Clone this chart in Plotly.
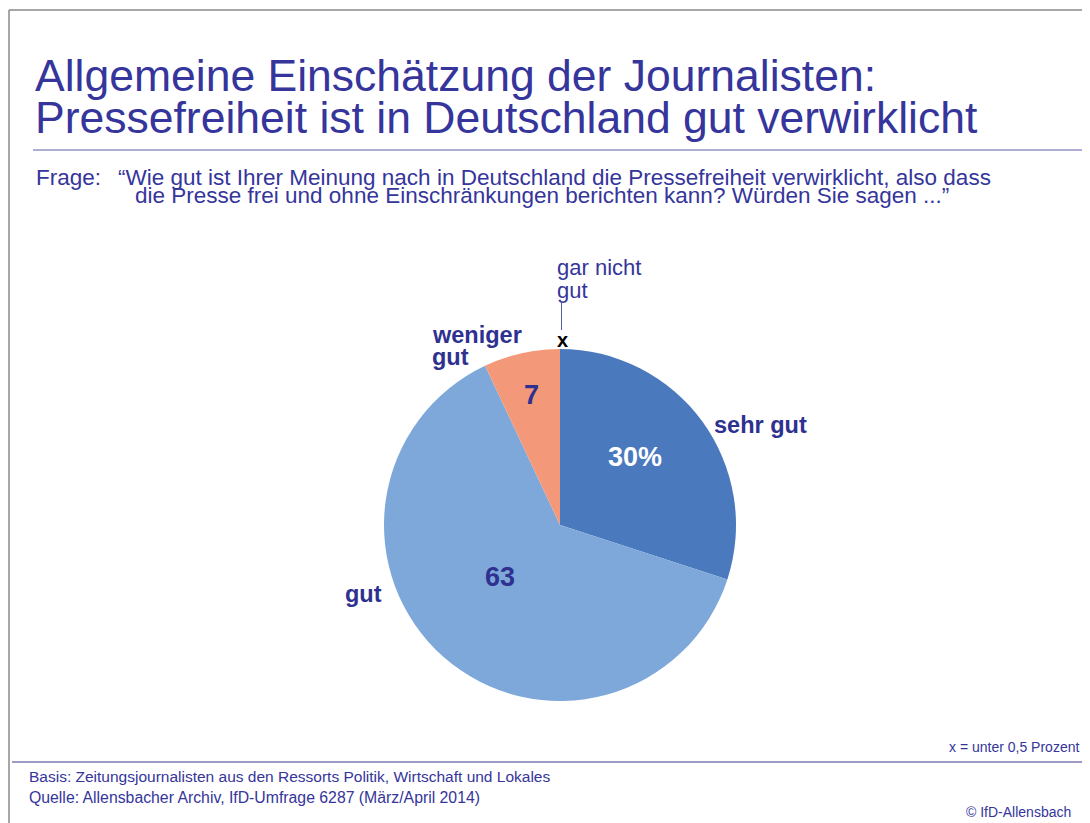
import plotly.graph_objects as go

# ---- data ----
categories = ["sehr gut", "gut", "weniger gut", "gar nicht gut"]
values = [30, 63, 7, 0]
inside_labels = ["30%", "63", "7", "x"]
slice_colors = ["#4a79bd", "#7ea8d9", "#f4987a", "#cccccc"]

title_lines = ["Allgemeine Einschätzung der Journalisten:",
               "Pressefreiheit ist in Deutschland gut verwirklicht"]
question_label = "Frage:"
question_lines = ["“Wie gut ist Ihrer Meinung nach in Deutschland die Pressefreiheit verwirklicht, also dass",
                  "die Presse frei und ohne Einschränkungen berichten kann? Würden Sie sagen ...”"]
note_text = "x = unter 0,5 Prozent"
basis_text = "Basis: Zeitungsjournalisten aus den Ressorts Politik, Wirtschaft und Lokales"
source_text = "Quelle: Allensbacher Archiv, IfD-Umfrage 6287 (März/April 2014)"
copyright_text = "© IfD-Allensbach"

# page has an 8px body margin; work in reference-pixel coordinates
OFF = 8
W, H = 1090 - OFF, 823 - OFF
NAVY = "#2e3190"
TITLE = "#35359b"
FONT = "Liberation Sans"


def px(x):
    return (x - OFF) / W


def py(y):
    return 1 - (y - OFF) / H


cx, cy, r = 560, 525, 176

fig = go.Figure()
fig.add_trace(go.Pie(
    labels=categories,
    values=values,
    textinfo="none",
    marker=dict(colors=slice_colors, line=dict(width=0)),
    direction="clockwise",
    rotation=0,
    sort=False,
    showlegend=False,
    hoverinfo="label+value",
    domain=dict(x=[px(cx - r), px(cx + r)], y=[py(cy + r), py(cy - r)]),
))

ann = []


def add(text, x, y, size, color, xanchor="left", bold=False, family=FONT):
    if bold:
        text = "<b>" + text + "</b>"
    ann.append(dict(text=text, x=px(x), y=py(y), xanchor=xanchor, yanchor="middle",
                    font=dict(family=family, size=size, color=color)))


# title
add(title_lines[0], 33, 76, 44.5, TITLE)
add(title_lines[1], 33, 117, 44.5, TITLE)
# question
add(question_label, 34, 177, 22.5, TITLE)
add(question_lines[0], 116, 177, 22.5, TITLE)
add(question_lines[1], 133, 195, 22.5, TITLE)

# inside slice values
add(inside_labels[0], 635, 457, 27, "#ffffff", xanchor="center", bold=True)
add(inside_labels[1], 500, 577, 27, NAVY, xanchor="center", bold=True)
add(inside_labels[2], 531, 395, 27, NAVY, xanchor="center", bold=True)
add(inside_labels[3], 562, 340, 20, "#000000", xanchor="center", bold=True)

# outside category labels
add(categories[0], 712, 425, 23.5, NAVY, bold=True)
add(categories[1], 384, 594, 23.5, NAVY, xanchor="right", bold=True)
add("weniger", 430, 335, 23.5, NAVY, bold=True)
add("gut", 430, 357, 23.5, NAVY, bold=True)
add("gar nicht", 555, 268, 22, TITLE)
add("gut", 555, 290, 22, TITLE)

# footer
add(note_text, 1081, 747, 14, TITLE, xanchor="right")
add(basis_text, 27, 776, 15.5, TITLE)
add(source_text, 27, 797, 15.8, TITLE)
add(copyright_text, 1073, 812, 14, TITLE, xanchor="right")

for a in ann:
    a.update(xref="paper", yref="paper", showarrow=False)

shapes = [
    # outer frame (top and left)
    dict(type="line", x0=px(9), x1=px(1090), y0=py(10), y1=py(10), line=dict(color="#8a8a8a", width=1.5)),
    dict(type="line", x0=px(9), x1=px(9), y0=py(10), y1=py(823), line=dict(color="#8a8a8a", width=1.5)),
    # title rule
    dict(type="line", x0=px(33), x1=px(1085), y0=py(150), y1=py(150), line=dict(color="#9595c8", width=1.5)),
    # footer rule
    dict(type="line", x0=px(12), x1=px(1085), y0=py(762), y1=py(762), line=dict(color="#3a3a90", width=1.2)),
    # leader for "gar nicht gut"
    dict(type="line", x0=px(561.5), x1=px(561.5), y0=py(303), y1=py(330), line=dict(color="#5060a8", width=1)),
]
for s in shapes:
    s.update(xref="paper", yref="paper")

fig.update_layout(
    width=W, height=H,
    margin=dict(l=0, r=0, t=0, b=0),
    paper_bgcolor="#ffffff",
    plot_bgcolor="#ffffff",
    annotations=ann,
    shapes=shapes,
)

fig.write_html("out.html")
